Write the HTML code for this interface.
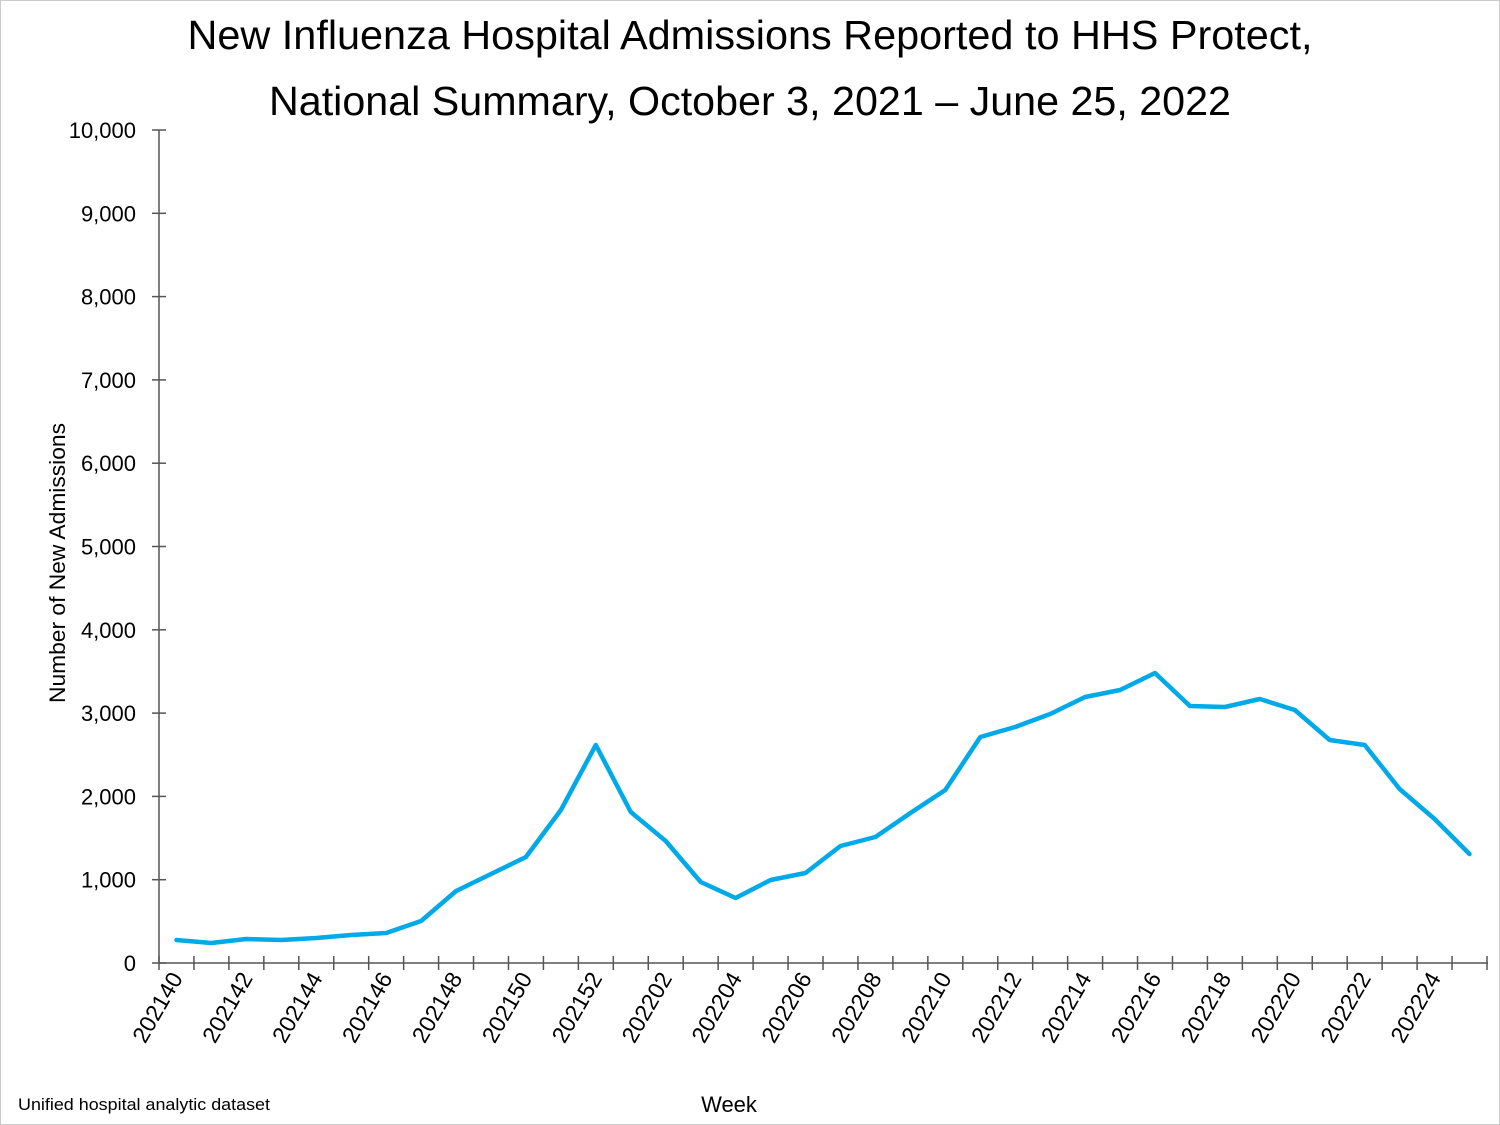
<!DOCTYPE html>
<html><head><style>body{margin:0;background:#fff}svg{display:block}text{font-family:"Liberation Sans",sans-serif;fill:#000}</style></head>
<body>
<svg width="1500" height="1125" viewBox="0 0 1500 1125" xmlns="http://www.w3.org/2000/svg">
<rect x="0.5" y="0.5" width="1499" height="1124" fill="#fff" stroke="#ccc"/>
<text x="750" y="49" font-size="41" text-anchor="middle" textLength="1125" lengthAdjust="spacingAndGlyphs">New Influenza Hospital Admissions Reported to HHS Protect,</text>
<text x="750" y="115" font-size="41" text-anchor="middle" textLength="962" lengthAdjust="spacingAndGlyphs">National Summary, October 3, 2021 – June 25, 2022</text>
<g stroke="#555" stroke-width="1.5">
<line x1="159" y1="130" x2="159" y2="963"/>
<line x1="159" y1="963" x2="1488" y2="963"/>
</g>
<g id="yt" font-size="22" text-anchor="end"></g>
<g id="xt" font-size="23"></g>
<text transform="translate(65,563) rotate(-90)" font-size="22" text-anchor="middle" textLength="280" lengthAdjust="spacingAndGlyphs">Number of New Admissions</text>
<text x="729" y="1112" font-size="22" text-anchor="middle">Week</text>
<text x="18" y="1110" font-size="17" textLength="252" lengthAdjust="spacingAndGlyphs">Unified hospital analytic dataset</text>
<polyline id="ln" fill="none" stroke="#00a9e8" stroke-width="4.5" stroke-linejoin="round" stroke-linecap="round"/>
</svg>
<script>
var ns="http://www.w3.org/2000/svg",s=document.querySelector('svg');
function el(t,a,p,txt){var e=document.createElementNS(ns,t);for(var k in a)e.setAttribute(k,a[k]);if(txt)e.textContent=txt;(p||s).appendChild(e);return e;}
var yt=document.getElementById('yt');
for(var i=0;i<=10;i++){var y=963-i*83.3;el('line',{x1:152,x2:166,y1:y,y2:y,stroke:'#555','stroke-width':1.5});
el('text',{x:136,y:y+8},yt,i==0?'0':(i*1000).toLocaleString('en-US'));}
var xt=document.getElementById('xt'),w=(1487-159)/38;
for(var i=0;i<=38;i++){var x=159+i*w;el('line',{x1:x,x2:x,y1:956,y2:970,stroke:'#555','stroke-width':1.5});}
var labs=[];for(var k=40;k<=52;k++)labs.push('2021'+k);for(var k=1;k<=25;k++)labs.push('2022'+(k<10?'0'+k:k));
for(var i=0;i<38;i+=2){var x=159+(i+0.5)*w+7;el('text',{transform:'translate('+x+',978) rotate(-60)','text-anchor':'end'},xt,labs[i]);}
var ys=[940,943,939,940,938,935,933,921,891,874,857,810,745,812,841,882,898,880,873,846,837,813,790,737,727,714,697,690,673,706,707,699,710,740,745,789,819,854];
document.getElementById('ln').setAttribute('points',ys.map(function(y,i){return (159+(i+0.5)*w).toFixed(1)+','+y}).join(' '));
</script>
</body></html>
